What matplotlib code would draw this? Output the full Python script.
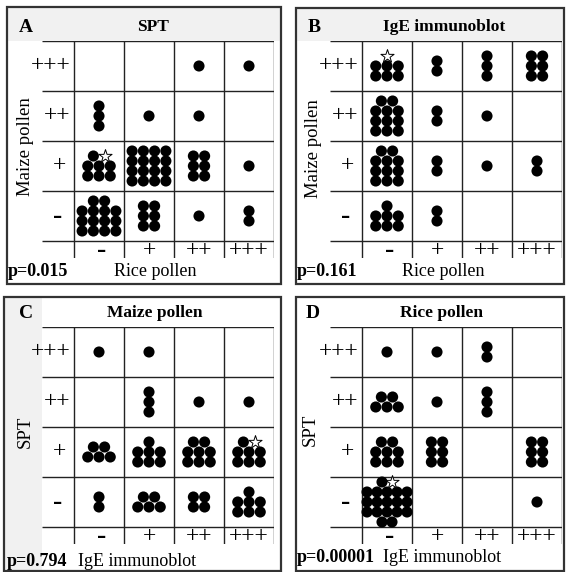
import numpy as np
import matplotlib.pyplot as plt
from matplotlib.patches import Rectangle

plt.rcParams['font.family'] = ['Liberation Serif', 'DejaVu Serif']

levels = ['-', '+', '++', '+++']
row_levels = ['+++', '++', '+', '-']

# patient counts per cell, rows top->bottom (+++, ++, +, -), cols (-, +, ++, +++)
# a starred cell holds one open star in place of a dot (included in its count)
spt_counts = [[0, 0, 1, 1],
              [3, 1, 1, 0],
              [8, 16, 6, 1],
              [14, 6, 1, 2]]
spt_star = (2, 0)

ige_counts = [[7, 2, 3, 6],
              [11, 2, 1, 0],
              [11, 2, 1, 2],
              [7, 2, 0, 0]]
ige_star = (0, 0)

maize_counts = [[1, 1, 0, 0],
                [0, 3, 1, 1],
                [5, 7, 8, 8],
                [2, 5, 4, 7]]
maize_star = (2, 3)

rice_counts = [[1, 1, 2, 0],
               [5, 1, 3, 0],
               [8, 6, 0, 6],
               [19, 0, 0, 1]]
rice_star = (3, 0)

letters = ['A', 'B', 'C', 'D']
titles = ['SPT', 'IgE immunoblot', 'Maize pollen', 'Rice pollen']
xlabels = ['Rice pollen', 'Rice pollen', 'IgE immunoblot', 'IgE immunoblot']
ylabels = ['Maize pollen', 'Maize pollen', 'SPT', 'SPT']
pvalues = ['p=0.015', 'p=0.161', 'p=0.794', 'p=0.00001']

W, H = 566, 572
GAPX = 0.225  # dot spacing in cell units
GAPY = 0.2


def fx(px):
    return px / W


def fy(py):
    return 1 - py / H


def cell_layout(n):
    if n <= 3:
        ncol = 1
    elif n in (4, 6):
        ncol = 2
    elif n <= 11:
        ncol = 3
    elif n <= 16:
        ncol = 4
    else:
        ncol = 5
    nfull, rem = divmod(n, ncol)
    rows = [ncol] * nfull
    if rem > 2:
        rows = [rem - rem // 2] + rows + [rem // 2]
    elif rem:
        rows = [rem] + rows
    gx = GAPX if ncol < 5 else 0.2
    pts = []
    for i, k in enumerate(rows):
        yo = ((len(rows) - 1) / 2 - i) * GAPY
        for j in range(k):
            pts.append(((j - (k - 1) / 2) * gx, yo))
    return pts, rows[0] - 1


fig = plt.figure(figsize=(W / 100, H / 100), dpi=100)

# layout in pixels: panel box, grid origin (left, top), text anchors
layout = [
    dict(box=(7, 7, 281, 284), grid=(42, 41), letter=(26, 27), title=(153, 27),
         ylab=(26, 147), xlab=(155, 271), p=(8, 271), shade='top'),
    dict(box=(296, 8, 564, 284), grid=(330, 41), letter=(314, 27), title=(444, 27),
         ylab=(313, 149), xlab=(443, 271), p=(297, 271), shade='top'),
    dict(box=(4, 297, 281, 571), grid=(42, 327), letter=(26, 313), title=(155, 313),
         ylab=(25, 432), xlab=(137, 561), p=(7, 561), shade='left'),
    dict(box=(296, 297, 564, 571), grid=(330, 327), letter=(313, 313), title=(441, 313),
         ylab=(310, 430), xlab=(442, 558), p=(297, 558), shade=None),
]

all_counts = [spt_counts, ige_counts, maize_counts, rice_counts]
all_stars = [spt_star, ige_star, maize_star, rice_star]

for k in range(4):
    L = layout[k]
    x0, y0, x1, y1 = L['box']
    if L['shade'] == 'top':
        fig.add_artist(Rectangle((fx(x0), fy(L['grid'][1])), (x1 - x0) / W,
                                 (L['grid'][1] - y0) / H, transform=fig.transFigure,
                                 facecolor='#f1f1f1', edgecolor='none', zorder=0))
    elif L['shade'] == 'left':
        fig.add_artist(Rectangle((fx(x0), fy(y1)), (L['grid'][0] - x0) / W,
                                 (y1 - y0) / H, transform=fig.transFigure,
                                 facecolor='#f1f1f1', edgecolor='none', zorder=0))
    fig.add_artist(Rectangle((fx(x0), fy(y1)), (x1 - x0) / W, (y1 - y0) / H,
                             transform=fig.transFigure, facecolor='none',
                             edgecolor='#333333', linewidth=1.6, zorder=5))

    gl, gt = L['grid']
    ax = fig.add_axes([fx(gl), fy(gt + 217), 232 / W, 217 / H])
    ax.set_xlim(-0.64, 4)
    ax.set_ylim(-0.34, 4)
    ax.axis('off')
    ax.patch.set_alpha(0)

    for yy in range(5):
        ax.plot([-0.64, 4], [yy, yy], color='#222222', lw=1.0, solid_capstyle='butt')
    for xx in range(5):
        ax.plot([xx, xx], [-0.34, 4], color='#222222', lw=1.0, solid_capstyle='butt')

    for i, lab in enumerate(row_levels):
        if lab == '-':
            ax.text(-0.33, 3.5 - i, lab, ha='center', va='center', fontsize=20,
                    fontweight='bold')
        elif lab == '+':
            ax.text(-0.30, 3.5 - i, lab, ha='center', va='center', fontsize=17)
        else:
            ax.text(-0.07, 3.5 - i, lab, ha='right', va='center', fontsize=17)
    for j, lab in enumerate(levels):
        if lab == '-':
            ax.text(j + 0.56, -0.19, lab, ha='center', va='center', fontsize=20,
                    fontweight='bold')
        else:
            ax.text(j + 0.5, -0.2, lab, ha='center', va='center', fontsize=17)

    counts = all_counts[k]
    star = all_stars[k]
    dx, dy, sx, sy = [], [], [], []
    for i in range(4):
        for j in range(4):
            n = counts[i][j]
            if n == 0:
                continue
            pts, star_idx = cell_layout(n)
            for m, (ox, oy) in enumerate(pts):
                px, py = j + 0.5 + ox, 3.5 - i + oy
                if (i, j) == star and m == star_idx:
                    sx.append(px)
                    sy.append(py)
                else:
                    dx.append(px)
                    dy.append(py)
    ax.scatter(dx, dy, s=64, color='black', edgecolors='none', zorder=3)
    ax.scatter(sx, sy, s=100, marker='*', facecolor='white', edgecolors='black',
               linewidths=0.7, zorder=4)

    fig.text(fx(L['letter'][0]), fy(L['letter'][1]), letters[k], ha='center',
             va='center', fontsize=14, fontweight='bold')
    fig.text(fx(L['title'][0]), fy(L['title'][1]), titles[k], ha='center',
             va='center', fontsize=12.5, fontweight='bold')
    fig.text(fx(L['ylab'][0]), fy(L['ylab'][1]), ylabels[k], ha='center',
             va='center', fontsize=13.5, rotation=90)
    fig.text(fx(L['xlab'][0]), fy(L['xlab'][1]), xlabels[k], ha='center',
             va='center', fontsize=13)
    fig.text(fx(L['p'][0]), fy(L['p'][1]), pvalues[k], ha='left',
             va='center', fontsize=13, fontweight='bold')

fig.savefig('out.png', dpi=100)
